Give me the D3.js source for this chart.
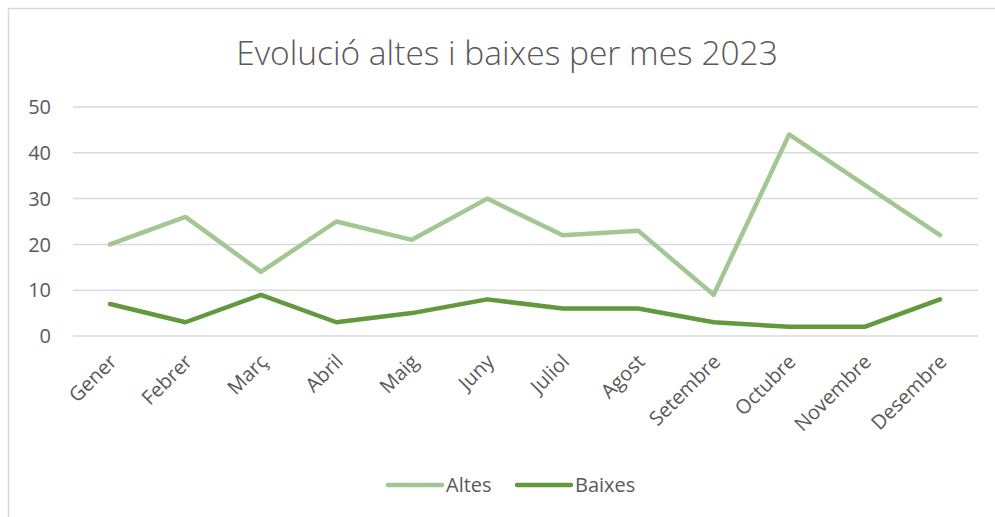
<!DOCTYPE html>
<html>
<head>
<meta charset="utf-8">
<script src="https://cdn.jsdelivr.net/npm/d3@7"></script>
<style>
  body { margin: 0; background: #fff; }
  svg { display: block; }
</style>
</head>
<body>
<svg></svg>
<script>
const width = 995
const height = 517

const months = ["Gener", "Febrer", "Març", "Abril", "Maig", "Juny", "Juliol", "Agost", "Setembre", "Octubre", "Novembre", "Desembre"]
const altes = [20, 26, 14, 25, 21, 30, 22, 23, 9, 44, 33, 22]
const baixes = [7, 3, 9, 3, 5, 8, 6, 6, 3, 2, 2, 8]
const yTicks = [0, 10, 20, 30, 40, 50]

const series = [
  { name: "Altes", values: altes, color: "#a3c794" },
  { name: "Baixes", values: baixes, color: "#62993c" }
]

const svg = d3.select("svg")
  .attr("width", width)
  .attr("height", height)
  .style("font-family", "'Open Sans', 'Noto Sans', sans-serif")

// chart frame (clipped at right/bottom like the original)
svg.append("rect")
  .attr("x", 8.5).attr("y", 8.5)
  .attr("width", width + 20).attr("height", height + 20)
  .attr("fill", "none")
  .attr("stroke", "#d9d9d9")
  .attr("stroke-width", 1.5)

svg.append("text")
  .attr("x", 507)
  .attr("y", 65)
  .attr("text-anchor", "middle")
  .style("font-size", "33.5px")
  .style("font-weight", 300)
  .style("fill", "#595959")
  .text("Evolució altes i baixes per mes 2023")

const x = d3.scalePoint()
  .domain(months)
  .range([110, 940])

const y = d3.scaleLinear()
  .domain([0, 50])
  .range([336, 107])

// gridlines
svg.append("g")
  .selectAll("line")
  .data(yTicks)
  .enter()
  .append("line")
  .attr("x1", 73).attr("x2", 978)
  .attr("y1", d => y(d)).attr("y2", d => y(d))
  .attr("stroke", "#d9d9d9")
  .attr("stroke-width", 1.5)

// y labels
svg.append("g")
  .selectAll("text")
  .data(yTicks)
  .enter()
  .append("text")
  .attr("x", 51)
  .attr("y", d => y(d))
  .attr("dy", "0.36em")
  .attr("text-anchor", "end")
  .style("font-size", "20px")
  .style("fill", "#595959")
  .text(d => d)

// x labels, rotated
svg.append("g")
  .selectAll("text")
  .data(months)
  .enter()
  .append("text")
  .attr("transform", d => "translate(" + (x(d) + 3) + ",358) rotate(-45)")
  .attr("text-anchor", "end")
  .attr("dy", "0.35em")
  .style("font-size", "20px")
  .style("fill", "#595959")
  .text(d => d)

const line = d3.line()
  .x((d, i) => x(months[i]))
  .y(d => y(d))

svg.append("g")
  .selectAll("path")
  .data(series)
  .enter()
  .append("path")
  .attr("d", d => line(d.values))
  .attr("fill", "none")
  .attr("stroke", d => d.color)
  .attr("stroke-width", 4.5)
  .attr("stroke-linejoin", "round")
  .attr("stroke-linecap", "round")

// legend
const legend = svg.append("g")
const legendX = [388, 517]
const item = legend.selectAll("g")
  .data(series)
  .enter()
  .append("g")
  .attr("transform", (d, i) => "translate(" + legendX[i] + ",485)")

item.append("line")
  .attr("x1", 0).attr("x2", 54)
  .attr("stroke", d => d.color)
  .attr("stroke-width", 4.5)
  .attr("stroke-linecap", "round")

item.append("text")
  .attr("x", 58)
  .attr("dy", "0.36em")
  .style("font-size", "20px")
  .style("fill", "#595959")
  .text(d => d.name)
</script>
</body>
</html>
